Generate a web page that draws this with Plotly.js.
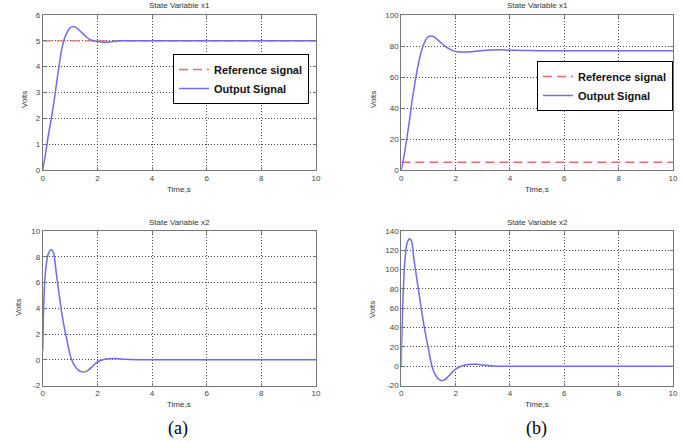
<!DOCTYPE html>
<html>
<head>
<meta charset="utf-8">
<script src="https://cdn.plot.ly/plotly-3.0.1.min.js"></script>
<style>html,body{margin:0;padding:0;background:#fff;}#chart{width:684px;height:442px;}</style>
</head>
<body>
<div id="chart"></div>
<script>
// ---- data ----
const refLevel = 5;
const refT = [0, 10];

// (a) State Variable x1
const tA1 = [0, 0.1, 0.2, 0.3, 0.4, 0.5, 0.6, 0.7, 0.8, 0.9, 1.0, 1.1, 1.2, 1.3, 1.4, 1.5, 1.6, 1.7, 1.8, 1.9, 2.0, 2.2, 2.4, 2.6, 2.8, 3.0, 4, 6, 8, 10];
const yA1 = [0, 0.6, 1.3, 1.9, 2.55, 3.3, 4.05, 4.7, 5.1, 5.35, 5.5, 5.55, 5.53, 5.45, 5.35, 5.25, 5.15, 5.07, 5.02, 4.99, 4.97, 4.95, 4.95, 4.97, 5.0, 5.0, 5, 5, 5, 5];

// (b) State Variable x1
const tB1 = [0, 0.1, 0.2, 0.3, 0.4, 0.5, 0.6, 0.7, 0.8, 0.9, 1.0, 1.1, 1.2, 1.3, 1.4, 1.5, 1.6, 1.7, 1.8, 1.9, 2.0, 2.2, 2.4, 2.6, 2.8, 3.0, 3.3, 3.6, 4.0, 4.5, 5, 6, 8, 10];
const yB1 = [0, 9, 20, 32, 45, 56, 66, 74, 80, 84, 86, 86.5, 86, 84.5, 83, 81.5, 80, 78.8, 77.8, 77, 76.5, 76.1, 76.1, 76.3, 76.7, 77.1, 77.5, 77.6, 77.3, 77.1, 77, 77, 77, 77];

// (a) State Variable x2
const tA2 = [0, 0.02, 0.05, 0.1, 0.15, 0.2, 0.3, 0.35, 0.4, 0.45, 0.5, 0.6, 0.7, 0.8, 0.9, 1.0, 1.1, 1.2, 1.3, 1.4, 1.5, 1.6, 1.7, 1.8, 1.9, 2.0, 2.2, 2.4, 2.6, 2.8, 3.0, 3.5, 5, 7, 10];
const yA2 = [0.7, 3, 5, 6.8, 7.7, 8.2, 8.55, 8.5, 8.3, 7.6, 6.7, 5.1, 3.6, 2.4, 1.4, 0.4, -0.2, -0.55, -0.8, -0.92, -0.95, -0.9, -0.75, -0.55, -0.35, -0.18, 0, 0.07, 0.1, 0.08, 0.04, 0, 0, 0, 0];

// (b) State Variable x2
const tB2 = [0, 0.01, 0.05, 0.1, 0.15, 0.2, 0.3, 0.35, 0.4, 0.45, 0.5, 0.6, 0.7, 0.8, 0.9, 1.0, 1.1, 1.2, 1.3, 1.4, 1.5, 1.6, 1.7, 1.8, 1.9, 2.0, 2.2, 2.4, 2.6, 2.8, 3.0, 3.4, 4, 6, 8, 10];
const yB2 = [0, 20, 60, 95, 115, 126, 132, 131, 127, 114, 104, 85, 66, 48, 32, 18, 3, -6, -11, -14, -15, -14, -11.5, -8.5, -5.5, -3, 0, 1.5, 2, 2, 1.2, 0.3, 0, 0, 0, 0];

const xTicks = [0, 2, 4, 6, 8, 10];
const yTicksA1 = [0, 1, 2, 3, 4, 5, 6];
const yTicksB1 = [0, 20, 40, 60, 80, 100];
const yTicksA2 = [-2, 0, 2, 4, 6, 8, 10];
const yTicksB2 = [-20, 0, 20, 40, 60, 80, 100, 120, 140];

const titleTop = 'State Variable x1';
const titleBot = 'State Variable x2';
const xLabel = 'Time,s';
const yLabel = 'Volts';
const refName = 'Reference signal';
const outName = 'Output Signal';

// ---- styling ----
const blue = 'rgb(108,108,238)';
const red = 'rgb(232,110,110)';
const W = 684, H = 442;
const px = v => v / W;
const py = v => 1 - v / H;

const traces = [
  {x: refT, y: [refLevel, refLevel], xaxis: 'x', yaxis: 'y', name: refName, mode: 'lines',
   line: {color: red, width: 1.3, dash: '9px,5px'}, legend: 'legend'},
  {x: tA1, y: yA1, xaxis: 'x', yaxis: 'y', name: outName, mode: 'lines',
   line: {color: blue, width: 1.5, shape: 'spline', smoothing: 0.8}, legend: 'legend'},
  {x: refT, y: [refLevel, refLevel], xaxis: 'x2', yaxis: 'y2', name: refName, mode: 'lines',
   line: {color: red, width: 1.3, dash: '9px,5px'}, legend: 'legend2'},
  {x: tB1, y: yB1, xaxis: 'x2', yaxis: 'y2', name: outName, mode: 'lines',
   line: {color: blue, width: 1.5, shape: 'spline', smoothing: 0.8}, legend: 'legend2'},
  {x: tA2, y: yA2, xaxis: 'x3', yaxis: 'y3', name: outName, mode: 'lines', showlegend: false,
   line: {color: blue, width: 1.5, shape: 'spline', smoothing: 0.8}},
  {x: tB2, y: yB2, xaxis: 'x4', yaxis: 'y4', name: outName, mode: 'lines', showlegend: false,
   line: {color: blue, width: 1.5, shape: 'spline', smoothing: 0.8}}
];

const tickFont = {family: 'Arial, Liberation Sans, sans-serif', size: 8, color: '#444'};
const gridStyle = {showgrid: true, gridcolor: 'rgba(40,40,40,0.85)', griddash: '1px,2px', gridwidth: 1};
function xa(domain, anchor) {
  return Object.assign({domain: domain, anchor: anchor, range: [0, 10], tickvals: xTicks, ticktext: xTicks.map(String),
    showline: true, linecolor: '#777', linewidth: 1, mirror: 'ticks', ticks: 'inside', ticklen: 3, tickcolor: '#777',
    zeroline: false, tickfont: tickFont, fixedrange: true}, gridStyle);
}
function ya(domain, anchor, rng, vals) {
  return Object.assign({domain: domain, anchor: anchor, range: rng, tickvals: vals, ticktext: vals.map(String),
    showline: true, linecolor: '#777', linewidth: 1, mirror: 'ticks', ticks: 'inside', ticklen: 3, tickcolor: '#777',
    zeroline: false, tickfont: tickFont, fixedrange: true}, gridStyle);
}

const xdL = [px(42.7), px(316)];
const xdR = [px(401.3), px(673)];
const ydT = [py(170), py(15)];
const ydB = [py(385.5), py(231)];

const legendStyle = {bgcolor: '#fff', bordercolor: '#000', borderwidth: 1,
  font: {family: 'Arial, Liberation Sans, sans-serif', size: 11, color: '#111', weight: 'bold'},
  xanchor: 'left', yanchor: 'top', tracegroupgap: 0, itemwidth: 30};

const small = {family: 'Arial, Liberation Sans, sans-serif', size: 8, color: '#333'};
function note(text, x, y, extra) {
  return Object.assign({text: text, x: px(x), y: py(y), xref: 'paper', yref: 'paper', showarrow: false,
    xanchor: 'center', yanchor: 'middle', font: small}, extra || {});
}
const cL = (42.7 + 316) / 2, cR = (401.3 + 673) / 2;
const serif = {family: 'Liberation Serif, Times New Roman, serif', size: 18, color: '#000'};
const ann = [
  note(titleTop, cL, 6), note(titleTop, cR, 6),
  note(titleBot, cL, 222), note(titleBot, cR, 222),
  note(xLabel, cL, 189), note(xLabel, cR, 189),
  note(xLabel, cL, 404), note(xLabel, cR, 404),
  note(yLabel, 25, 100, {textangle: -90}), note(yLabel, 374, 100, {textangle: -90}),
  note(yLabel, 18, 308, {textangle: -90}), note(yLabel, 372, 310, {textangle: -90}),
  note('(a)', 178, 428, {font: serif}), note('(b)', 536, 428, {font: serif})
];

const layout = {
  width: W, height: H, margin: {l: 0, r: 0, t: 0, b: 0},
  paper_bgcolor: '#fff', plot_bgcolor: '#fff',
  showlegend: true,
  xaxis: xa(xdL, 'y'), yaxis: ya(ydT, 'x', [0, 6], yTicksA1),
  xaxis2: xa(xdR, 'y2'), yaxis2: ya(ydT, 'x2', [0, 100], yTicksB1),
  xaxis3: xa(xdL, 'y3'), yaxis3: ya(ydB, 'x3', [-2, 10], yTicksA2),
  xaxis4: xa(xdR, 'y4'), yaxis4: ya(ydB, 'x4', [-20, 140], yTicksB2),
  legend: Object.assign({x: px(173), y: py(54)}, legendStyle),
  legend2: Object.assign({x: px(537), y: py(61)}, legendStyle),
  annotations: ann
};

Plotly.newPlot('chart', traces, layout, {displayModeBar: false, staticPlot: true});
</script>
</body>
</html>
